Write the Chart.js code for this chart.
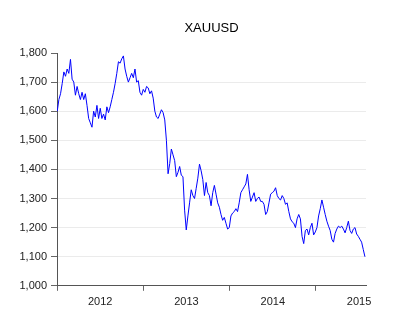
<!DOCTYPE html>
<html>
<head>
<meta charset="utf-8">
<script src="https://cdn.jsdelivr.net/npm/chart.js@4/dist/chart.umd.min.js"></script>
<style>
  html, body { margin: 0; padding: 0; background: #ffffff; }
  #wrap { width: 400px; height: 325px; }
</style>
</head>
<body>
<div id="wrap"><canvas id="c" width="400" height="325"></canvas></div>
<script>
// Weekly XAUUSD values (one per week starting Mon 2 Jan 2012)
const gold2012 = [1600,1640,1660,1695,1735,1720,1745,1730,1778,1710,1700,1655,1685,1660,1640,1665,1640,1660,1620,1575,1560,1545,1600,1580,1620,1575,1610,1575,1590,1570,1615,1595,1615,1640,1665,1695,1730,1770,1765,1780,1790,1745,1720,1700,1715,1730,1715,1745,1700,1705,1665,1655];
const gold2013 = [1675,1665,1685,1680,1660,1670,1645,1600,1580,1575,1590,1605,1595,1570,1500,1385,1420,1470,1450,1430,1375,1390,1410,1380,1375,1260,1192,1240,1285,1330,1310,1300,1335,1370,1418,1395,1365,1310,1355,1320,1310,1275,1320,1345,1315,1285,1270,1245,1225,1235,1215,1195,1200];
const gold2014 = [1240,1250,1255,1265,1255,1285,1320,1330,1340,1350,1383,1330,1290,1305,1320,1290,1300,1305,1290,1290,1280,1245,1255,1285,1315,1320,1325,1337,1310,1300,1295,1310,1300,1280,1285,1255,1230,1220,1215,1200,1230,1245,1230,1170,1145,1190,1195,1175,1200,1215,1175,1185];
const gold2015 = [1200,1240,1265,1295,1270,1245,1222,1205,1190,1160,1150,1180,1195,1205,1200,1205,1195,1182,1200,1222,1190,1180,1195,1200,1178,1170,1160,1150,1125,1100];

const values = [...gold2012, ...gold2013, ...gold2014, ...gold2015];
const startDay = 1;          // 2 Jan 2012 = day 1 of 2012
const stepDays = 7;          // weekly observations
const points = values.map((v, i) => ({ x: 2012 + (startDay + stepDays * i) / 365.25, y: v }));

const yearTicks = [2012, 2012.5, 2013, 2013.5, 2014, 2014.5, 2015, 2015.5];
const yearLabels = { 2012.5: '2012', 2013.5: '2013', 2014.5: '2014', 2015.5: '2015' };
const yTicks = [1000, 1100, 1200, 1300, 1400, 1500, 1600, 1700, 1800];
const titleText = 'XAUUSD';

const titlePlugin = {
  id: 'plotTitle',
  afterDraw(chart) {
    const { ctx, chartArea } = chart;
    ctx.save();
    ctx.font = '13px "Liberation Sans", Arial, sans-serif';
    ctx.fillStyle = '#000000';
    ctx.textAlign = 'center';
    ctx.textBaseline = 'middle';
    ctx.fillText(titleText, (chartArea.left + chartArea.right) / 2, 28);
    ctx.restore();
  }
};

new Chart(document.getElementById('c'), {
  type: 'line',
  data: {
    datasets: [{
      data: points,
      borderColor: '#0000ff',
      borderWidth: 1,
      pointRadius: 0,
      tension: 0,
      spanGaps: false,
      fill: false
    }]
  },
  options: {
    responsive: false,
    animation: false,
    devicePixelRatio: 1,
    layout: { padding: { top: 53, right: 34, bottom: 11, left: 0 } },
    plugins: { legend: { display: false }, tooltip: { enabled: false }, title: { display: false } },
    scales: {
      x: {
        type: 'linear',
        min: 2012,
        max: 2015.58,
        afterBuildTicks: (scale) => { scale.ticks = yearTicks.map(v => ({ value: v })); },
        ticks: {
          autoSkip: false,
          maxRotation: 0,
          padding: 5,
          color: '#222222',
          font: { family: '"Liberation Sans", Arial, sans-serif', size: 11 },
          callback: (v) => yearLabels[v] || ''
        },
        grid: {
          drawOnChartArea: false,
          tickLength: 5,
          tickColor: (ctx) => (ctx.tick && Number.isInteger(ctx.tick.value)) ? '#666666' : 'rgba(0,0,0,0)'
        },
        border: { color: '#555555', width: 1 }
      },
      y: {
        min: 1000,
        max: 1800,
        afterBuildTicks: (scale) => { scale.ticks = yTicks.map(v => ({ value: v })); },
        afterFit: (scale) => { scale.width = 57; },
        ticks: {
          padding: 4,
          color: '#222222',
          font: { family: '"Liberation Sans", Arial, sans-serif', size: 11 },
          callback: (v) => v.toLocaleString('en-US')
        },
        grid: {
          tickLength: 6,
          color: (ctx) => (ctx.tick && (ctx.tick.value === 1000 || ctx.tick.value === 1800)) ? 'rgba(0,0,0,0)' : '#ebebeb',
          tickColor: '#666666',
          lineWidth: 1
        },
        border: { color: '#555555', width: 1 }
      }
    }
  },
  plugins: [titlePlugin]
});
</script>
</body>
</html>
